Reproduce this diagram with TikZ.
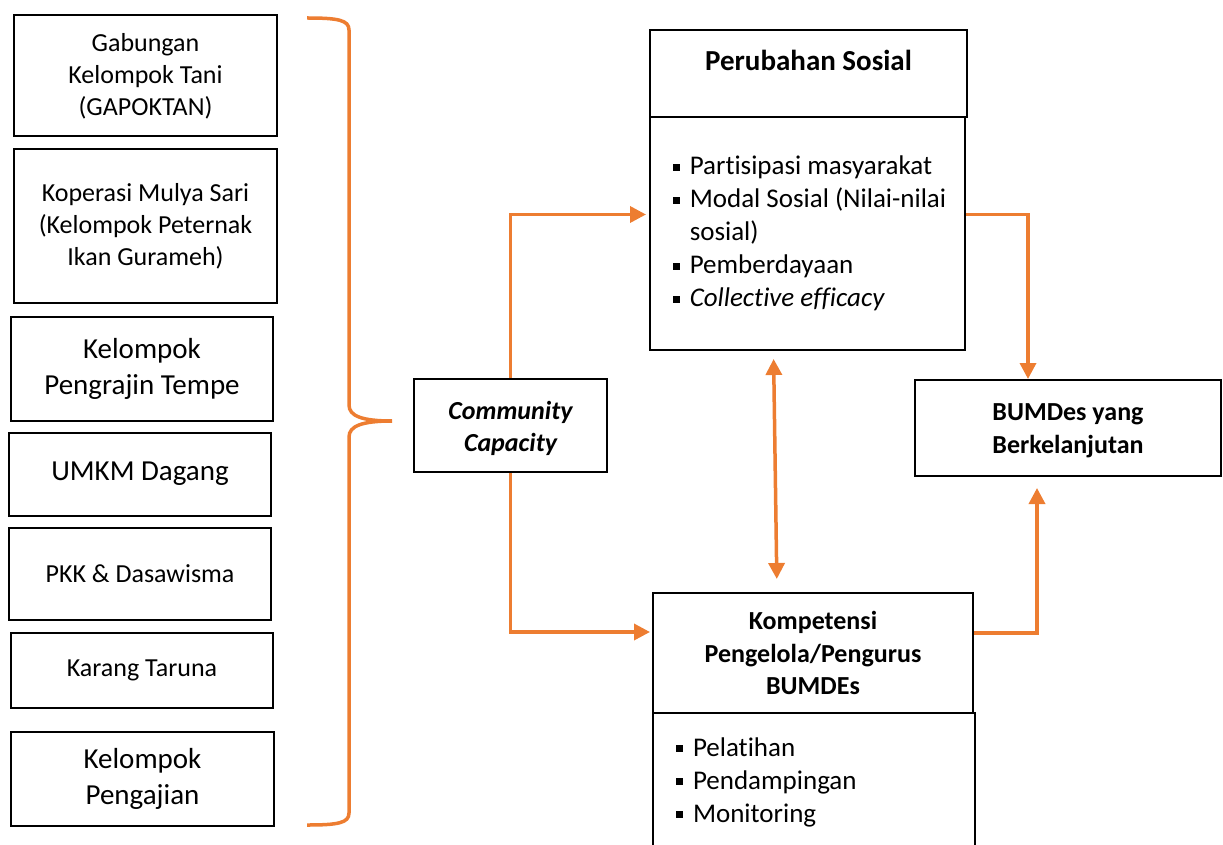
\documentclass[tikz,border=0pt]{standalone}
\usepackage{fontspec}
\setmainfont{Carlito}[Ligatures={NoCommon}]
\usetikzlibrary{arrows.meta,calc}
\definecolor{BumOrange}{HTML}{ED7D31}
\definecolor{BumInk}{HTML}{000000}
\newcommand{\sqitem}{\makebox[21pt][l]{\hspace{4pt}\rule[4pt]{7pt}{7pt}}}
\newcommand{\sqgap}{\hspace*{21pt}}

\begin{document}
\begin{tikzpicture}[
    x=1pt,
    y=-1pt,
    font=\fontsize{26}{32}\selectfont,
    >={Triangle[length=16pt,width=16pt]},
    box/.style={draw=BumInk, line width=2pt, fill=white, align=center, inner sep=0pt},
    bigbox/.style={box, font=\fontsize{29}{36}\selectfont},
    headbox/.style={box, font=\bfseries\fontsize{26}{32.5}\selectfont},
    listbox/.style={box, align=left, font=\fontsize{27}{33}\selectfont},
    flow/.style={->, line width=3.5pt, draw=BumOrange},
    twoway/.style={flow, <->},
    brace/.style={line width=3.5pt, draw=BumOrange}
  ]
    \useasboundingbox (0,0) rectangle (1223,845);

    \node[box, minimum width=263pt, minimum height=121pt] (gapoktan) at (145.5,76) {Gabungan\\Kelompok Tani\\(GAPOKTAN)};
    \node[box, minimum width=263pt, minimum height=154pt] (koperasi) at (145.5,226) {Koperasi Mulya Sari\\(Kelompok Peternak\\Ikan Gurameh)};
    \node[bigbox, minimum width=262pt, minimum height=104pt] (tempe) at (142,369) {Kelompok\\Pengrajin Tempe};
    \node[bigbox, minimum width=262pt, minimum height=83pt] (umkm) at (140,474) {UMKM Dagang};
    \node[box, minimum width=262pt, minimum height=92pt] (pkk) at (140,574) {PKK \& Dasawisma};
    \node[box, minimum width=262pt, minimum height=75pt] (taruna) at (142,670.5) {Karang Taruna};
    \node[bigbox, minimum width=263pt, minimum height=94pt] (pengajian) at (142.5,779) {Kelompok\\Pengajian};

    \draw[brace] (307,18) .. controls (338,18) and (349,20) .. (349,30) -- (349,405)
      .. controls (349,416) and (362,421) .. (392,421)
      .. controls (362,421) and (349,426) .. (349,437) -- (349,813)
      .. controls (349,823) and (338,825) .. (307,825);

    \node[box, minimum width=193pt, minimum height=93pt, font=\bfseries\itshape\fontsize{26}{32}\selectfont] (capacity) at (510.5,425.5) {\raisebox{-3pt}[\height][\depth]{Community}\\\raisebox{-3pt}[\height][\depth]{Capacity}};

    \node[box, minimum width=317pt, minimum height=87pt, font=\bfseries\fontsize{29}{34}\selectfont] (sosialhead) at (808.5,73.5) {\raisebox{13pt}[\height][\depth]{Perubahan Sosial}};
    \node[listbox, minimum width=315pt, minimum height=233pt] (sosialbody) at (807.5,233.5) {\sqitem Partisipasi masyarakat\\\sqitem Modal Sosial (Nilai-nilai\\\sqgap sosial)\\\sqitem Pemberdayaan\\\sqitem\textit{Collective efficacy}};

    \node[headbox, minimum width=306pt, minimum height=96pt] (bumdes) at (1068,428) {\raisebox{-3pt}[\height][\depth]{BUMDes yang}\\\raisebox{-3pt}[\height][\depth]{Berkelanjutan}};

    \node[headbox, minimum width=320pt, minimum height=120pt] (komphead) at (813,653) {Kompetensi\\Pengelola/Pengurus\\BUMDEs};
    \node[listbox, minimum width=322pt, minimum height=138pt, text width=284pt, inner xsep=19pt] (kompbody) at (814,782) {\sqitem Pelatihan\\\sqitem Pendampingan\\\sqitem Monitoring};

    \draw[flow, shorten >=3pt] (capacity.north) |- ([yshift=19pt]sosialbody.west);
    \draw[flow, shorten >=2pt] (capacity.south) |- ([yshift=21pt]komphead.west);
    \draw[twoway, shorten <=8pt, shorten >=13pt] ([xshift=-34pt]sosialbody.south) -- ([xshift=-36pt]komphead.north);
    \draw[flow] ([yshift=19pt]sosialbody.east) -| ([xshift=-40pt]bumdes.north);
    \draw[flow, shorten >=11pt] ([yshift=20pt]komphead.east) -| ([xshift=-31pt]bumdes.south);
  \end{tikzpicture}
\end{document}
